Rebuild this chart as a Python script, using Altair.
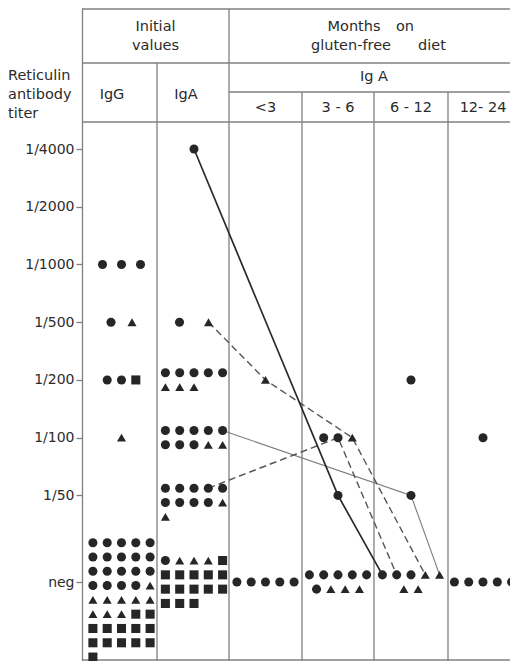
import altair as alt
import pandas as pd

# ---------------- data ----------------
columns = ["IgG", "IgA", "<3", "3-6", "6-12", "12-24"]
titers = ["neg", "1/50", "1/100", "1/200", "1/500", "1/1000", "1/2000", "1/4000"]
titer_levels = [0, 1.5, 2.5, 3.5, 4.5, 5.5, 6.5, 7.5]

# symbols per row within each titer group: c = circle, t = triangle, s = square
igg_symbols = {
    "1/1000": ["ccc"],
    "1/500": ["ct"],
    "1/200": ["ccs"],
    "1/100": ["t"],
    "neg": ["ccccc", "ccccc", "ccccc", "cccct", "ttttt", "tttss", "sssss", "sssss", "s"],
}
iga_symbols = {
    "1/4000": ["c"],
    "1/500": ["ct"],
    "1/200": ["ccccc", "ttt"],
    "1/100": ["ccccc", "ccctt"],
    "1/50": ["ccccc", "cccct", "t"],
    "neg": ["cttts", "sssss", "sssss", "sss"],
}
lt3_symbols = {"1/200": ["t"], "neg": ["ccccc"]}
m3_6_symbols = {"1/100": ["cct"], "1/50": ["c"], "neg": ["ccccc", "cttt"]}
m6_12_symbols = {"1/200": ["c"], "1/50": ["c"], "neg": ["ccctt", "tt"]}
m12_24_symbols = {"1/100": ["c"], "neg": ["ccccc"]}

symbols = {
    "IgG": igg_symbols, "IgA": iga_symbols, "<3": lt3_symbols,
    "3-6": m3_6_symbols, "6-12": m6_12_symbols, "12-24": m12_24_symbols,
}

# individual patient courses: (column, titer, row, slot)
track_bold = [("IgA", "1/4000", 0, 0), ("3-6", "1/50", 0, 0), ("6-12", "neg", 0, 0)]
track_dash_a = [("IgA", "1/500", 0, 1), ("<3", "1/200", 0, 0), ("3-6", "1/100", 0, 2), ("6-12", "neg", 0, 3)]
track_dash_b = [("IgA", "1/50", 0, 3), ("3-6", "1/100", 0, 1), ("6-12", "neg", 0, 1)]
track_thin = [("IgA", "1/100", 0, 4), ("6-12", "1/50", 0, 0), ("6-12", "neg", 0, 4)]

header_top = ["Initial", "values"]
header_months = ["Months", "on", "gluten-free", "diet"]
subheader = "Ig A"
column_labels = ["IgG", "IgA", "<3", "3 - 6", "6 - 12", "12- 24"]
axis_title = ["Reticulin", "antibody", "titer"]

# ---------------- layout ----------------
W, H = 428, 653
PAD_L = 74
X0, X1 = 82, 82 + W              # x domain, page-pixel-like units
PX_PER_LEVEL = 57.73
NEG_PX = 582.0


def lv(ypx):
    return (NEG_PX - ypx) / PX_PER_LEVEL


Y0, Y1 = lv(8 + H), lv(8)
edges = [82, 157, 229, 302, 374, 448, 518]
label_centers = [112, 186, 265.5, 338, 411, 483]
ROW = 14.3 / PX_PER_LEVEL
SLOT = 14.3
spacing_override = {("IgG", "1/1000"): 19, ("IgG", "1/500"): 21, ("IgA", "1/500"): 29}
anchor_override = {("IgG", "neg"): 2.75, ("IgA", "1/50"): 0.5}
center_override = {"IgG": 121.5, "IgA": 194}
level_of = dict(zip(titers, titer_levels))


def pos(col, titer, r, s):
    rows = symbols[col][titer]
    n = len(rows)
    ci = columns.index(col)
    cx = center_override.get(col, (edges[ci] + edges[ci + 1]) / 2)
    sp = spacing_override.get((col, titer), SLOT)
    anchor = anchor_override.get((col, titer), (n - 1) / 2)
    y = level_of[titer] + (anchor - r) * ROW
    if n > 1 and ci < 2:
        x = cx - 2 * sp + s * sp
    else:
        k = len(rows[r])
        x = cx + (s - (k - 1) / 2) * sp
    return x, y


pts = []
for col in columns:
    for titer, rows in symbols[col].items():
        for r, row in enumerate(rows):
            for s, ch in enumerate(row):
                x, y = pos(col, titer, r, s)
                pts.append({"x": x, "y": y, "shape": ch})
pts = pd.DataFrame(pts)


def track_df(track, name):
    out = []
    for i, (c, t, r, s) in enumerate(track):
        x, y = pos(c, t, r, s)
        out.append({"x": x, "y": y, "step": i, "track": name})
    return pd.DataFrame(out)


# table rules
rules = pd.DataFrame([
    # verticals
    {"x": 157, "x2": 157, "y": lv(63), "y2": Y0},
    {"x": 229, "x2": 229, "y": lv(9), "y2": Y0},
    {"x": 302, "x2": 302, "y": lv(92), "y2": Y0},
    {"x": 374, "x2": 374, "y": lv(92), "y2": Y0},
    {"x": 448, "x2": 448, "y": lv(92), "y2": Y0},
    # horizontals
    {"x": 82, "x2": 518, "y": lv(9), "y2": lv(9)},
    {"x": 82, "x2": 518, "y": lv(63), "y2": lv(63)},
    {"x": 229, "x2": 518, "y": lv(92), "y2": lv(92)},
    {"x": 82, "x2": 518, "y": lv(122), "y2": lv(122)},
    {"x": 82, "x2": 518, "y": lv(8 + H - 1), "y2": lv(8 + H - 1)},
])

texts = []
texts += [{"x": 155.5, "y": lv(27), "t": header_top[0], "a": "center"},
          {"x": 155.5, "y": lv(46), "t": header_top[1], "a": "center"}]
texts += [{"x": 354, "y": lv(27), "t": header_months[0], "a": "center"},
          {"x": 405, "y": lv(27), "t": header_months[1], "a": "center"},
          {"x": 351, "y": lv(46), "t": header_months[2], "a": "center"},
          {"x": 432, "y": lv(46), "t": header_months[3], "a": "center"}]
texts += [{"x": 374, "y": lv(77), "t": subheader, "a": "center"}]
texts += [{"x": label_centers[0], "y": lv(95), "t": column_labels[0], "a": "center"},
          {"x": label_centers[1], "y": lv(95), "t": column_labels[1], "a": "center"}]
for i in range(2, 6):
    texts.append({"x": label_centers[i], "y": lv(108), "t": column_labels[i], "a": "center"})
for i, t in enumerate(axis_title):
    texts.append({"x": 8, "y": lv(76 + 19 * i), "t": t, "a": "left"})
texts = pd.DataFrame(texts)

FONT = "DejaVu Sans"
INK = "#2b2b2b"
GRID = "#808080"
FS = 14.5

label_expr = " : ".join(
    f"datum.value == {v} ? '{t}'" for v, t in zip(titer_levels, titers)
) + " : ''"

yaxis = alt.Axis(values=titer_levels, labelExpr=label_expr, title=None, grid=False,
                 tickSize=6, tickWidth=1.3, tickColor=GRID, domainColor=GRID,
                 domainWidth=1.3, labelFont=FONT, labelFontSize=14,
                 labelColor=INK, labelPadding=2)
xs = alt.Scale(domain=[X0, X1], nice=False, zero=False)
ys = alt.Scale(domain=[Y0, Y1], nice=False, zero=False)


def X(f):
    return alt.X(f"{f}:Q", scale=xs, axis=None)


def Y(f):
    return alt.Y(f"{f}:Q", scale=ys, axis=yaxis)


rule_layer = alt.Chart(rules).mark_rule(color=GRID, strokeWidth=1.3).encode(
    x=X("x"), x2="x2", y=Y("y"), y2="y2")

line_bold = alt.Chart(track_df(track_bold, "a")).mark_line(
    color="#2a2a2a", strokeWidth=1.7).encode(x=X("x"), y=Y("y"), order="step:Q")
line_dash = alt.Chart(pd.concat([track_df(track_dash_a, "b"), track_df(track_dash_b, "c")])).mark_line(
    color="#555555", strokeWidth=1.4, strokeDash=[7, 4]).encode(
    x=X("x"), y=Y("y"), order="step:Q", detail="track:N")
line_thin = alt.Chart(track_df(track_thin, "d")).mark_line(
    color="#7a7a7a", strokeWidth=1.1).encode(x=X("x"), y=Y("y"), order="step:Q")

point_layer = alt.Chart(pts).mark_point(filled=True, size=82, opacity=1, color="#262626").encode(
    x=X("x"), y=Y("y"),
    shape=alt.Shape("shape:N", scale=alt.Scale(domain=["c", "t", "s"],
                                                range=["circle", "triangle-up", "square"]),
                    legend=None))

text_c = alt.Chart(texts[texts.a == "center"]).mark_text(
    font=FONT, fontSize=FS, color=INK, align="center", baseline="middle").encode(
    x=X("x"), y=Y("y"), text="t:N")
text_l = alt.Chart(texts[texts.a == "left"]).mark_text(
    font=FONT, fontSize=FS, color=INK, align="left", baseline="middle").encode(
    x=X("x"), y=Y("y"), text="t:N")

chart = alt.layer(rule_layer, line_thin, line_dash, line_bold, point_layer, text_c, text_l).properties(
    width=W, height=H,
    autosize=alt.AutoSizeParams(type="none"),
    padding={"left": PAD_L, "top": 0, "right": 0, "bottom": 0},
).configure_view(stroke=None)

chart.save("out.html", embed_options={"renderer": "svg", "actions": False})
